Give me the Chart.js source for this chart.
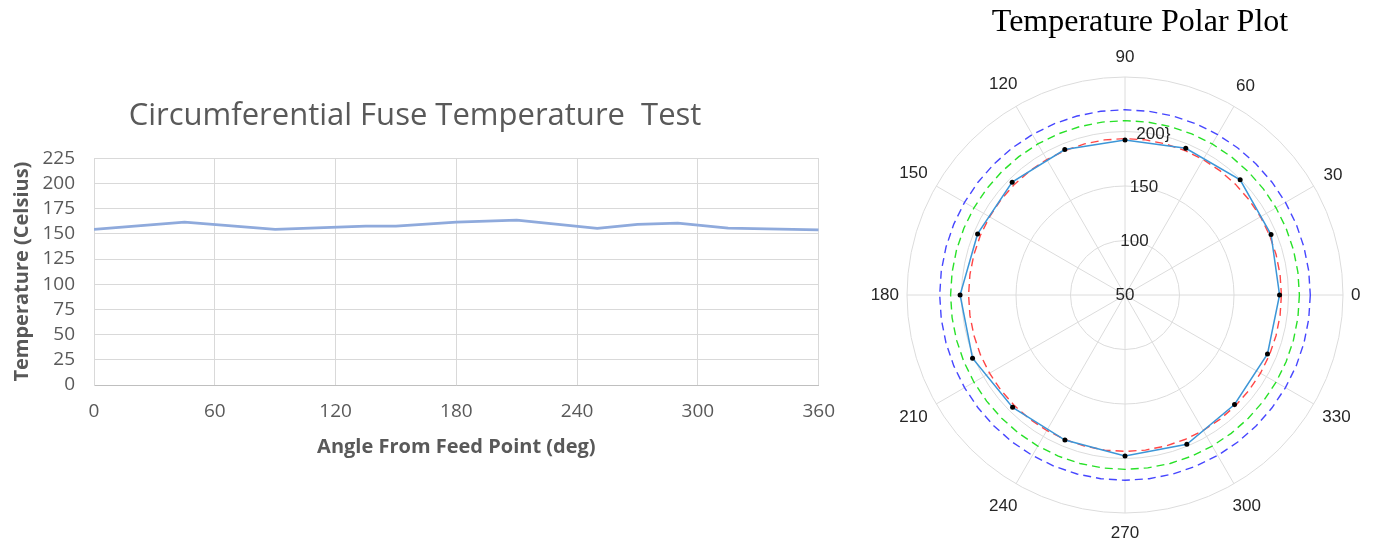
<!DOCTYPE html>
<html>
<head>
<meta charset="utf-8">
<title>Fuse temperature</title>
<script src="https://cdn.jsdelivr.net/npm/chart.js@4.4.1/dist/chart.umd.min.js"></script>
<style>
  html, body { margin: 0; padding: 0; background: #fff; }
  body { width: 1374px; height: 544px; position: relative; overflow: hidden; }
  canvas { position: absolute; top: 0; }
  #sweep { left: 0; }
  #polar { left: 850px; }
</style>
</head>
<body>
<canvas id="sweep" width="850" height="544"></canvas>
<canvas id="polar" width="524" height="544"></canvas>
<script>
// temperature along the circumference (line chart)
const sweepAngles = [0, 45, 90, 135, 150, 180, 210, 250, 270, 290, 315, 360];
const sweepTemps = [154.3, 161.6, 154.3, 157.5, 157.6, 161.6, 163.6, 155.3, 159.3, 160.6, 155.6, 154.0];

// polar plot: one reading every 22.5 deg
const polarAngles = [0, 22.5, 45, 67.5, 90, 112.5, 135, 157.5, 180, 202.5, 225, 247.5, 270, 292.5, 315, 337.5];
const polarTemps = [191.8, 195.0, 199.4, 195.7, 192.2, 194.4, 196.4, 196.4, 201.3, 201.4, 195.8, 194.0, 197.7, 198.2, 192.1, 191.5];

// dashed reference circles
const circleTemps = [193.5, 210, 220];
const circleColors = ['rgb(255,70,70)', 'rgb(40,225,40)', 'rgb(70,70,255)'];

const thetaTicks = [0, 30, 60, 90, 120, 150, 180, 210, 240, 270, 300, 330];
const radialTicks = [50, 100, 150, 200];
const radialTickLabels = ['50', '100', '150', '200}'];

const gray = '#595959';
const sans = 'Open Sans';
const polarFont = '17px "Liberation Sans", Arial, sans-serif';

// ---------- left: line chart ----------
new Chart(document.getElementById('sweep'), {
  type: 'line',
  data: {
    datasets: [{
      data: sweepAngles.map((a, i) => ({ x: a, y: sweepTemps[i] })),
      borderColor: '#8faadc',
      borderWidth: 2.75,
      pointRadius: 0,
      tension: 0
    }]
  },
  options: {
    responsive: false,
    animation: false,
    layout: { padding: { left: 10, right: 30, top: 0, bottom: 85 } },
    plugins: {
      legend: { display: false },
      tooltip: { enabled: false },
      title: {
        display: true,
        text: 'Circumferential Fuse Temperature  Test',
        color: gray,
        font: { family: sans, size: 31, weight: 'normal' },
        padding: { top: 98, bottom: 23 }
      }
    },
    scales: {
      x: {
        type: 'linear',
        min: 0,
        max: 360,
        ticks: { stepSize: 60, autoSkip: false, color: gray, font: { family: sans, size: 19 }, padding: 15, maxRotation: 0 },
        grid: { color: '#d9d9d9', drawTicks: false },
        border: { color: '#bfbfbf' },
        title: { display: true, text: 'Angle From Feed Point (deg)', color: gray, font: { family: sans, size: 20, weight: 'bold' }, padding: 0 },
        afterFit: s => { s.height = 74; }
      },
      y: {
        min: 0,
        max: 225,
        ticks: { stepSize: 25, autoSkip: false, color: gray, font: { family: sans, size: 19 }, padding: 19 },
        grid: { color: '#d9d9d9', drawTicks: false },
        border: { color: '#d9d9d9' },
        title: { display: true, text: 'Temperature (Celsius)', color: gray, font: { family: sans, size: 20, weight: 'bold' }, padding: 0 },
        afterFit: s => { s.width = 84; }
      }
    }
  }
});

// ---------- right: polar plot ----------
// radar spokes every 7.5 deg, counter-clockwise from 3 o'clock
const gridAngles = Array.from({ length: 48 }, (_, i) => (360 - i * 7.5) % 360);
const onGrid = (angles, values) => gridAngles.map(a => {
  const k = angles.indexOf(a);
  return k < 0 ? null : values[k];
});

const polarText = {
  id: 'polarText',
  afterDraw(chart) {
    const r = chart.scales.r;
    const ctx = chart.ctx;
    ctx.save();
    ctx.fillStyle = '#262626';
    ctx.textAlign = 'center';
    ctx.textBaseline = 'middle';
    ctx.font = polarFont;

    // angle labels outside the outer ring
    const edge = r.drawingArea + 8;
    thetaTicks.forEach(deg => {
      const a = deg * Math.PI / 180;
      const txt = String(deg);
      const w = ctx.measureText(txt).width;
      const d = edge + Math.abs(Math.cos(a)) * w / 2 + Math.abs(Math.sin(a)) * 12;
      const p = r.getPointPosition(gridAngles.indexOf(deg), d);
      ctx.fillText(txt, p.x, p.y);
    });

    // radial tick labels along the 80 deg ray
    const ray = 80 * Math.PI / 180;
    radialTicks.forEach((v, i) => {
      const d = r.getDistanceFromCenterForValue(v);
      ctx.fillText(radialTickLabels[i], r.xCenter + d * Math.cos(ray), r.yCenter - d * Math.sin(ray));
    });

    ctx.fillStyle = '#000';
    ctx.font = '32px "Liberation Serif", "Times New Roman", serif';
    ctx.fillText('Temperature Polar Plot', r.xCenter + 15, 23);
    ctx.restore();
  }
};

new Chart(document.getElementById('polar'), {
  type: 'radar',
  data: {
    labels: gridAngles,
    datasets: [{
      data: onGrid(polarAngles, polarTemps),
      borderColor: 'rgb(60,150,215)',
      borderWidth: 1.5,
      pointRadius: 2.5,
      pointBorderWidth: 0,
      pointBackgroundColor: '#000',
      spanGaps: true,
      fill: false
    }].concat(circleTemps.map((t, i) => ({
      data: gridAngles.map(() => t),
      borderColor: circleColors[i],
      borderWidth: 1.4,
      borderDash: [8, 5],
      pointRadius: 0,
      fill: false
    })))
  },
  options: {
    responsive: false,
    animation: false,
    layout: { padding: { left: 57, right: 30, top: 76, bottom: 30 } },
    elements: { line: { tension: 0 } },
    plugins: { legend: { display: false }, tooltip: { enabled: false } },
    scales: {
      r: {
        min: 50,
        max: 250,
        startAngle: 90,
        ticks: { display: false, stepSize: 50 },
        pointLabels: { display: false },
        grid: { circular: true, color: '#dcdcdc', lineWidth: 1 },
        angleLines: {
          color: ctx => (Number(ctx.label) % 30 === 0 ? '#dcdcdc' : 'transparent'),
          lineWidth: ctx => (Number(ctx.label) % 30 === 0 ? 1 : 0)
        }
      }
    }
  },
  plugins: [polarText]
});
</script>
</body>
</html>
